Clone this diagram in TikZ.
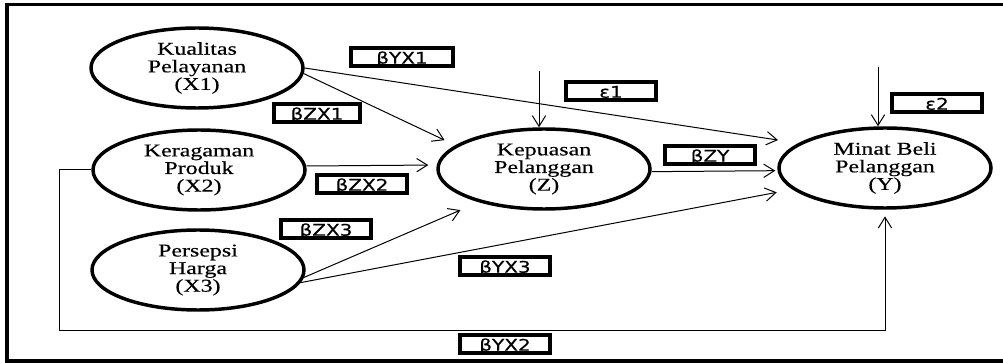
\documentclass[tikz,border=0pt]{standalone}
\usepackage{fontspec}
\setmainfont{Liberation Serif}
\newfontfamily\ovalfont[FakeStretch=1.33,FakeBold=0.4]{Liberation Serif}
\newfontfamily\coeffont[FakeStretch=1.25,FakeBold=0.5]{DejaVu Sans}
\usetikzlibrary{arrows.meta,shapes.geometric,positioning}

\begin{document}
\begin{tikzpicture}[x=0.75pt,y=-0.75pt,
    latent/.style={ellipse,draw,line width=2.6pt,minimum width=159pt,minimum height=60pt,inner sep=0pt,align=center,font=\ovalfont\fontsize{13.5}{13.2}\selectfont},
    coef/.style={rectangle,draw,line width=2.8pt,minimum width=67pt,minimum height=13pt,inner sep=0pt,text height=10pt,text depth=0pt,font=\coeffont\fontsize{12}{13}\selectfont},
    arrow/.style={-{Straight Barb[length=8pt,width=10pt]},line width=0.75pt}
]
\useasboundingbox (0,0) rectangle (1003,363);

% === Frame ===
\draw[line width=2.6pt] (1003,4.5) -| (7,361) -- (1003,361);

% === Latent variables ===
\node[latent] (X1) at (197,68) {Kualitas\\Pelayanan\\(X1)};
\node[latent] (X2) at (199,170) {Keragaman\\Produk\\(X2)};
\node[latent] (X3) at (198,270) {Persepsi\\Harga\\(X3)};
\node[latent] (Z) at (544,169) {Kepuasan\\Pelanggan\\(Z)};
\node[latent] (Y) at (885,168) {Minat Beli\\Pelanggan\\(Y)};

% === Path coefficients ===
\node[coef,minimum width=76pt] (bYX1) at (402,57) {βYX1};
\node[coef,minimum width=65pt] (bZX1) at (317,113) {βZX1};
\node[coef] (bZX2) at (362,184) {βZX2};
\node[coef] (bZX3) at (326,229) {βZX3};
\node[coef,minimum width=68pt] (bYX3) at (505,266) {βYX3};
\node[coef,minimum width=68pt] (bYX2) at (505,344) {βYX2};
\node[coef,minimum width=68pt] (bZY) at (710,155) {βZY};
\node[coef] (e1) at (611,91) {ε1};
\node[coef] (e2) at (937,103) {ε2};

% === Direct paths ===
\draw[arrow,shorten >=9pt] (X1.-3) -- (Z.165);
\draw[arrow,shorten >=15.5pt] (X1.east) -- (Y.164);
\draw[arrow,shorten >=6pt] ([yshift=3pt]X2.east) -- ([yshift=3pt]Z.west);
\draw[arrow,shorten >=1.5pt] ([yshift=-2pt]Z.east) -- ([yshift=-2pt]Y.west);
\draw[arrow,shorten >=15pt] (X3.-4) -- (Z.207.5);
\draw[arrow,shorten >=12pt] (X3.-7) -- (Y.193);

% === Error terms ===
\coordinate (e1in) at (539,71);
\coordinate (e2in) at (878,67);
\draw[arrow] (e1in) -- (e1in |- Z.north);
\draw[arrow] (e2in) -- (e2in |- Y.north);

% === X2 to Y, round the bottom ===
\coordinate (loop) at (59,330);
\draw[arrow,shorten >=5pt] (X2.west) -| (loop) -| (Y.south);

\end{tikzpicture}
\end{document}
